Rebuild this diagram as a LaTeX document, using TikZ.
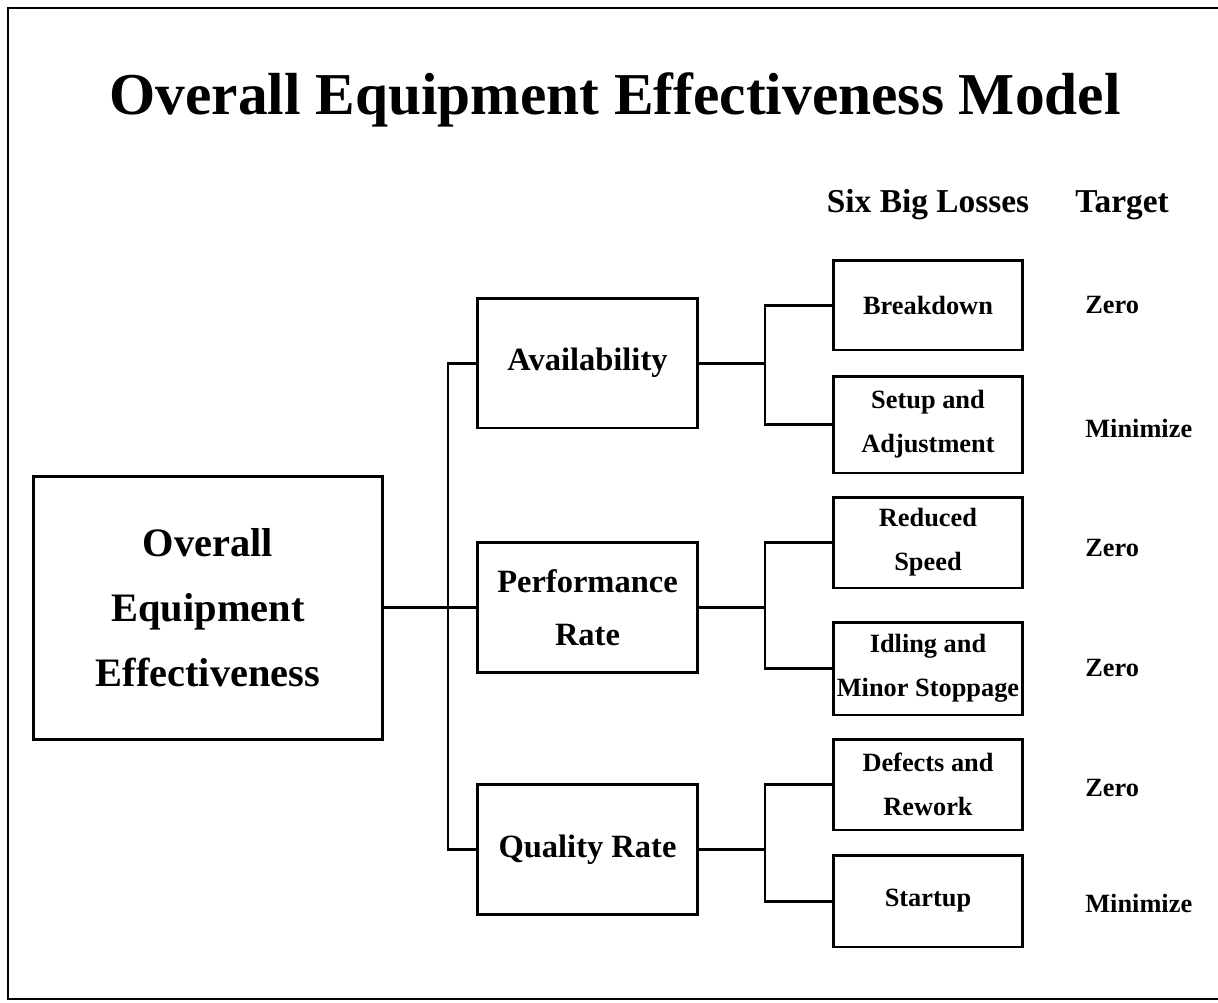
\documentclass[tikz,border=0pt]{standalone}
\usepackage{fontspec}
\setmainfont{Liberation Serif}

\begin{document}
\begin{tikzpicture}[line cap=rect,line join=miter,x=0.02cm,y=-0.02cm,
    box/.style={draw,line width=1.7pt,inner sep=0pt,align=center,font=\bfseries},
    mainbox/.style={box,minimum width=7cm,minimum height=5.28cm,font=\fontsize{23}{37}\selectfont\bfseries},
    factorbox/.style={box,minimum width=4.42cm,minimum height=2.6cm,font=\fontsize{18.5}{30}\selectfont\bfseries},
    lossbox/.style={box,minimum width=3.8cm,font=\fontsize{15}{25}\selectfont\bfseries},
    target/.style={anchor=west,inner sep=0pt,font=\fontsize{15}{18}\selectfont\bfseries},
    header/.style={font=\fontsize{19}{22}\selectfont\bfseries},
    link/.style={line width=1.7pt}]
      \useasboundingbox (0,0) rectangle (1218,1002);
      % frame
      \draw[line width=1.4pt] (1220,8) -- (8,8) -- (8,999) -- (1220,999);
      \node[font=\fontsize{33.8}{40}\selectfont\bfseries] (title) at (615,100) {Overall Equipment Effectiveness Model};
      \node[header] (hlosses) at (928,205) {Six Big Losses};
      \node[header] (htarget) at (1122,205) {Target};
      % boxes
      \node[mainbox] (oee) at (208,608) {Overall\\Equipment\\Effectiveness};
      \node[factorbox] (avail) at (587.5,363) {Availability};
      \node[factorbox] (perf) at (587.5,607.5) {Performance\\Rate};
      \node[factorbox] (qual) at (587.5,849.5) {Quality Rate};
      \node[lossbox,minimum height=1.8cm] (brk) at (928,305) {Breakdown};
      \node[lossbox,minimum height=1.94cm] (setup) at (928,424.5) {Setup and\\Adjustment};
      \node[lossbox,minimum height=1.82cm] (speed) at (928,542.5) {Reduced\\Speed};
      \node[lossbox,minimum height=1.86cm] (idle) at (928,668.5) {Idling and\\Minor Stoppage};
      \node[lossbox,minimum height=1.82cm] (defect) at (928,784.5) {Defects and\\Rework};
      \node[lossbox,minimum height=1.84cm] (start) at (928,901) {Startup};
      % targets
      \node[target] (tbrk) at (1085,305) {Zero};
      \node[target] (tsetup) at (1085,428) {Minimize};
      \node[target] (tspeed) at (1085,548) {Zero};
      \node[target] (tidle) at (1085,668) {Zero};
      \node[target] (tdefect) at (1085,788) {Zero};
      \node[target] (tstart) at (1085,903) {Minimize};
      % connectors
      \coordinate (busA) at (448,607.5);
      \coordinate (busB) at (765,363);
      \coordinate (busC) at (765,607.5);
      \coordinate (busD) at (765,849.5);
      \draw[link] (oee.east |- busA) -- (perf.west);
      \draw[link] (avail.west) -| (busA) |- (qual.west);
      \draw[link] (avail.east) -- (busB);
      \draw[link] (brk.west) -| (busB) |- (setup.west);
      \draw[link] (perf.east) -- (busC);
      \draw[link] (speed.west) -| (busC) |- (idle.west);
      \draw[link] (qual.east) -- (busD);
      \draw[link] (defect.west) -| (busD) |- (start.west);
\end{tikzpicture}
\end{document}
